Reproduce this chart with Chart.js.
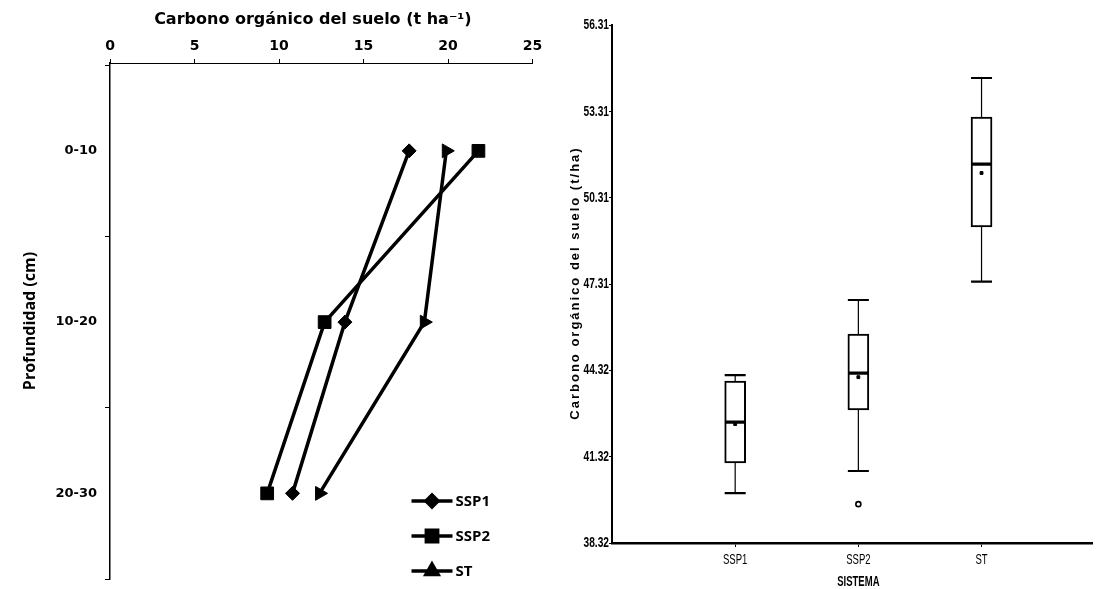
<!DOCTYPE html>
<html>
<head>
<meta charset="utf-8">
<script src="https://cdn.jsdelivr.net/npm/chart.js@4.4.1/dist/chart.umd.min.js"></script>
<style>
  html, body { margin: 0; padding: 0; background: #fff; }
  #wrap { position: relative; width: 1098px; height: 589px; overflow: hidden; }
  #left { position: absolute; left: 0; top: 0; }
  #right { position: absolute; left: 555px; top: 0; }
</style>
</head>
<body>
<div id="wrap">
  <canvas id="left" width="555" height="589"></canvas>
  <canvas id="right" width="543" height="589"></canvas>
</div>
<script>
// left panel: carbon by depth (t ha-1)
const depths = ['0-10', '10-20', '20-30'];
const ssp1 = [17.7, 13.9, 10.8];
const ssp2 = [21.8, 12.7, 9.3];
const st = [19.9, 18.6, 12.4];
const depthTicks = [0.5, 1, 1.5, 2, 2.5, 3, 3.5];

// right panel: box plot per system (t/ha)
const sistemas = ['SSP1', 'SSP2', 'ST'];
const whiskerLow = [40.05, 40.82, 47.40];
const q1 = [41.10, 42.94, 49.30];
const median = [42.52, 44.22, 51.48];
const q3 = [43.94, 45.58, 53.11];
const whiskerHigh = [44.15, 46.76, 54.47];
const means = [42.45, 44.08, 51.17];
const outlierSystem = ['SSP2'];
const outlierValue = [39.67];
const carbonTicks = [38.32, 41.32, 44.32, 47.31, 50.31, 53.31, 56.31];

Chart.defaults.color = '#000';
Chart.defaults.font.family = 'Liberation Sans, Arial, sans-serif';

const toPoints = vals => vals.map((v, i) => ({ x: v, y: i + 1 }));

function lineSet(label, vals, style, radius, rotation) {
  return {
    label: label,
    data: toPoints(vals),
    showLine: true,
    borderColor: '#000',
    borderWidth: 3.5,
    backgroundColor: '#000',
    pointStyle: style,
    pointRadius: radius,
    pointRotation: rotation,
    pointBorderWidth: 1,
    pointBorderColor: '#000',
    pointBackgroundColor: '#000'
  };
}

// legend drawn inside the plot, lower right
const innerLegend = {
  id: 'innerLegend',
  afterDraw(chart) {
    const { ctx, chartArea } = chart;
    const rows = [78, 43, 8];
    ctx.save();
    chart.data.datasets.forEach((ds, i) => {
      const y = chartArea.bottom - rows[i];
      const x0 = chartArea.right - 121;
      const x1 = chartArea.right - 80;
      ctx.strokeStyle = '#000';
      ctx.lineWidth = 3.5;
      ctx.beginPath();
      ctx.moveTo(x0, y);
      ctx.lineTo(x1, y);
      ctx.stroke();
      ctx.fillStyle = '#000';
      Chart.helpers.drawPoint(ctx, {
        pointStyle: ds.pointStyle,
        radius: ds.pointRadius - 1,
        rotation: ds.pointStyle === 'triangle' ? 0 : ds.pointRotation,
        borderWidth: 1
      }, (x0 + x1) / 2, y);
      ctx.font = 'bold 15px "Open Sans", sans-serif';
      ctx.textBaseline = 'middle';
      ctx.textAlign = 'left';
      ctx.fillText(ds.label, x1 + 3, y + 1);
    });
    ctx.restore();
  }
};

new Chart(document.getElementById('left'), {
  type: 'scatter',
  data: {
    datasets: [
      lineSet('SSP1', ssp1, 'rectRot', 7, 0),
      lineSet('SSP2', ssp2, 'rect', 9, 0),
      lineSet('ST', st, 'triangle', 8, 90)
    ]
  },
  options: {
    responsive: false,
    animation: false,
    layout: { padding: { top: 0, right: 22.5, bottom: 0, left: 0 } },
    plugins: { legend: { display: false }, tooltip: { enabled: false } },
    scales: {
      x: {
        type: 'linear',
        position: 'top',
        min: 0,
        max: 25,
        ticks: {
          stepSize: 5,
          padding: 4.5,
          font: { family: 'DejaVu Sans', weight: 'bold', size: 14 }
        },
        grid: { drawOnChartArea: false, tickLength: 4, color: '#000' },
        border: { color: '#000', width: 1 },
        title: {
          display: true,
          text: 'Carbono orgánico del suelo (t ha⁻¹)   ',
          font: { family: 'DejaVu Sans', weight: 'bold', size: 16 },
          padding: { top: 10, bottom: 0 }
        },
        afterFit: s => { s.height = 63; }
      },
      y: {
        type: 'linear',
        reverse: true,
        min: 0.487,
        max: 3.5,
        afterBuildTicks: s => { s.ticks = depthTicks.map(v => ({ value: v })); },
        ticks: {
          autoSkip: false,
          padding: 8,
          font: { family: 'DejaVu Sans', weight: 'bold', size: 13 },
          callback: v => (Number.isInteger(v) ? depths[v - 1] : '')
        },
        grid: {
          drawOnChartArea: false,
          tickLength: 5,
          tickColor: c => (Number.isInteger(c.tick.value) ? 'rgba(0,0,0,0)' : '#000')
        },
        border: { color: '#000', width: 1.5 },
        title: {
          display: true,
          text: 'Profundidad (cm)',
          font: { family: 'Open Sans', weight: 'bold', size: 16 },
          padding: { top: 21, bottom: 0 }
        },
        afterFit: s => { s.width = 110; s.paddingTop = 0; s.paddingBottom = 0; }
      }
    }
  },
  plugins: [innerLegend]
});

// whiskers and caps drawn through the chart scales
const whiskers = {
  id: 'whiskers',
  afterDatasetsDraw(chart) {
    const { ctx, scales } = chart;
    const half = 10.5;
    ctx.save();
    ctx.strokeStyle = '#000';
    sistemas.forEach((s, i) => {
      const x = scales.x.getPixelForValue(i + 1);
      const yLo = scales.y.getPixelForValue(whiskerLow[i]);
      const yQ1 = scales.y.getPixelForValue(q1[i]);
      const yQ3 = scales.y.getPixelForValue(q3[i]);
      const yHi = scales.y.getPixelForValue(whiskerHigh[i]);
      ctx.lineWidth = 1.2;
      ctx.beginPath();
      ctx.moveTo(x, yHi); ctx.lineTo(x, yQ3);
      ctx.moveTo(x, yQ1); ctx.lineTo(x, yLo);
      ctx.stroke();
      ctx.lineWidth = 2.2;
      ctx.beginPath();
      ctx.moveTo(x - half, yHi); ctx.lineTo(x + half, yHi);
      ctx.moveTo(x - half, yLo); ctx.lineTo(x + half, yLo);
      ctx.stroke();
    });
    ctx.restore();
  }
};

// narrow (condensed) axis texts of the box plot, placed with the scales
function narrow(ctx, text, x, y, align) {
  ctx.save();
  ctx.translate(x, y);
  ctx.scale(0.68, 1);
  ctx.textAlign = align;
  ctx.textBaseline = 'middle';
  ctx.fillText(text, 0, 0);
  ctx.restore();
}

const boxAxisText = {
  id: 'boxAxisText',
  afterDraw(chart) {
    const { ctx, scales, chartArea } = chart;
    ctx.save();
    ctx.fillStyle = '#000';
    ctx.font = 'bold 15px "Liberation Sans", Arial, sans-serif';
    scales.y.ticks.forEach(t => {
      narrow(ctx, t.value.toFixed(2), scales.y.right - 3, scales.y.getPixelForValue(t.value), 'right');
    });
    ctx.font = '14px "Liberation Sans", Arial, sans-serif';
    scales.x.ticks.forEach(t => {
      narrow(ctx, sistemas[t.value - 1], scales.x.getPixelForValue(t.value), chartArea.bottom + 17, 'center');
    });
    ctx.font = 'bold 14px "Liberation Sans", Arial, sans-serif';
    narrow(ctx, 'SISTEMA', scales.x.getPixelForValue(2), chartArea.bottom + 39, 'center');

    // rotated y title, letter-spaced
    ctx.translate(scales.y.left + 20, (chartArea.top + chartArea.bottom) / 2);
    ctx.rotate(-Math.PI / 2);
    ctx.font = 'bold 13px "Liberation Sans", Arial, sans-serif';
    ctx.letterSpacing = '2px';
    ctx.textAlign = 'center';
    ctx.textBaseline = 'middle';
    ctx.fillText('Carbono orgánico del suelo (t/ha)', 1, 0);
    ctx.restore();
  }
};

const boxPart = (lo, hi) => ({
  type: 'bar',
  data: sistemas.map((s, i) => ({ x: i + 1, y: [lo[i], hi[i]] })),
  backgroundColor: '#fff',
  borderColor: '#000',
  borderWidth: 2,
  borderSkipped: false,
  barThickness: 21,
  grouped: false,
  order: 2
});

new Chart(document.getElementById('right'), {
  type: 'bar',
  data: {
    datasets: [
      boxPart(q1, median),
      boxPart(median, q3),
      {
        type: 'scatter',
        data: sistemas.map((s, i) => ({ x: i + 1, y: means[i] })),
        pointStyle: 'rect',
        pointRadius: 2,
        backgroundColor: '#000',
        borderColor: '#000',
        order: 0
      },
      {
        type: 'scatter',
        data: outlierSystem.map((s, i) => ({ x: sistemas.indexOf(s) + 1, y: outlierValue[i] })),
        pointStyle: 'circle',
        pointRadius: 2.5,
        borderWidth: 1.6,
        backgroundColor: '#fff',
        borderColor: '#000',
        order: 0
      }
    ]
  },
  options: {
    responsive: false,
    animation: false,
    layout: { padding: { top: 25, right: 3, bottom: 0, left: 0 } },
    plugins: { legend: { display: false }, tooltip: { enabled: false } },
    scales: {
      x: {
        type: 'linear',
        min: 0,
        max: 3.9,
        offset: false,
        afterBuildTicks: s => { s.ticks = sistemas.map((n, i) => ({ value: i + 1 })); },
        ticks: { display: false },
        grid: { drawOnChartArea: false, offset: false, tickLength: 4, color: '#000' },
        border: { color: '#000', width: 2.5 },
        afterFit: s => { s.height = 46; }
      },
      y: {
        type: 'linear',
        min: 38.32,
        max: 56.31,
        afterBuildTicks: s => { s.ticks = carbonTicks.map(v => ({ value: v })); },
        ticks: { display: false },
        grid: { drawOnChartArea: false, tickLength: 3, color: '#000' },
        border: { color: '#000', width: 2 },
        afterFit: s => { s.width = 57; }
      }
    }
  },
  plugins: [whiskers, boxAxisText]
});
</script>
</body>
</html>
